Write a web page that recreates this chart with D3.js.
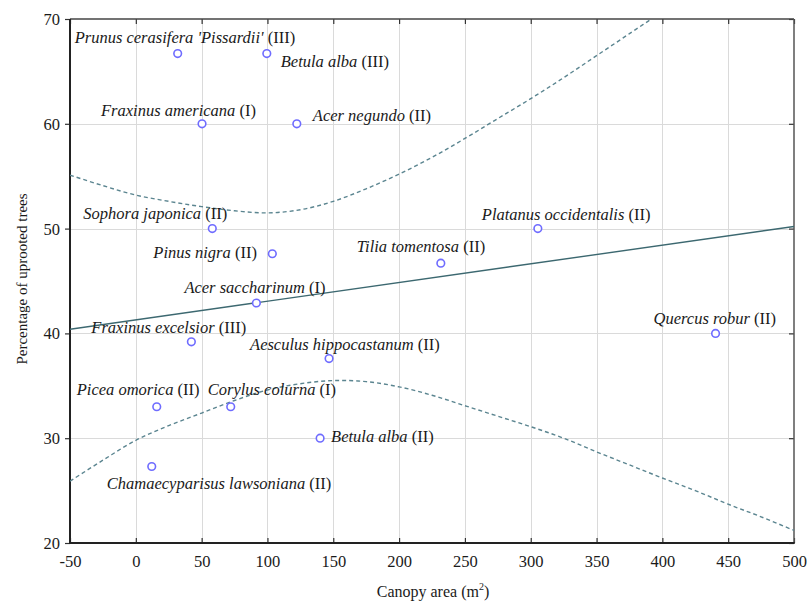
<!DOCTYPE html>
<html>
<head>
<meta charset="utf-8">
<script src="https://cdn.jsdelivr.net/npm/d3@7"></script>
<style>
  html, body { margin: 0; padding: 0; background: #fff; }
  svg { display: block; }
  text { font-family: "Liberation Serif", "DejaVu Serif", serif; fill: #1a1a1a; }
</style>
</head>
<body>
<svg id="chart" width="808" height="604"></svg>
<script>
// ---- data ----
const species = [
  "Prunus cerasifera 'Pissardii'", "Betula alba", "Fraxinus americana", "Acer negundo",
  "Sophora japonica", "Pinus nigra", "Acer saccharinum", "Fraxinus excelsior",
  "Aesculus hippocastanum", "Picea omorica", "Corylus colurna", "Betula alba",
  "Chamaecyparisus lawsoniana", "Tilia tomentosa", "Platanus occidentalis", "Quercus robur"
];
const groups = ["III", "III", "I", "II", "II", "II", "I", "III", "II", "II", "I", "II", "II", "II", "II", "II"];
const canopyArea = [31.8, 99.5, 50.3, 122.3, 58.1, 103.7, 91.6, 42.2, 146.8, 15.9, 72.1, 140, 12.1, 231.7, 305.4, 440.4];
const uprootedPct = [66.7, 66.7, 60, 60, 50, 47.6, 42.9, 39.2, 37.6, 33, 33, 30, 27.3, 46.7, 50, 40];

// fitted line and confidence band
const fitX = [-50, 500];
const fitY = [40.4, 50.2];
const upperX = [-50, -25, 0, 25, 50, 75, 100, 125, 150, 175, 200, 225, 250, 275, 300, 325, 350, 375, 400];
const upperY = [55.1, 54.1, 53.2, 52.6, 52.1, 51.7, 51.5, 51.8, 52.6, 53.8, 55.2, 56.8, 58.6, 60.5, 62.4, 64.4, 66.5, 68.6, 70.7];
const lowerX = [-50, -25, 0, 25, 50, 75, 100, 125, 150, 175, 200, 225, 250, 275, 300, 325, 350, 375, 400, 425, 450, 475, 500];
const lowerY = [25.9, 27.9, 29.8, 31.2, 32.4, 33.6, 34.6, 35.2, 35.5, 35.4, 34.9, 34.1, 33.1, 32.1, 31.1, 30.0, 28.7, 27.45, 26.2, 25.0, 23.7, 22.5, 21.2];

const xTicks = [-50, 0, 50, 100, 150, 200, 250, 300, 350, 400, 450, 500];
const yTicks = [20, 30, 40, 50, 60, 70];

// label placement (layout only): [dx, dy] from point to text start/baseline
const labelOffsets = [
  [-103, -11], [14, 13], [-101, -8], [16, -3], [-129, -10], [-119, 4], [-72, -10], [-100, -9],
  [-79, -9], [-80, -12], [-23, -12], [11, 4], [-45, 23], [-84, -11], [-56, -9], [-62, -9]
];

// ---- layout ----
const svg = d3.select("#chart");
const L = 70, R = 794, T = 19, B = 543;
const x = d3.scaleLinear().domain([-50, 500]).range([L, R]);
const y = d3.scaleLinear().domain([20, 70]).range([B, T]);

svg.append("defs").append("clipPath").attr("id", "plotclip")
  .append("rect").attr("x", L).attr("y", T).attr("width", R - L).attr("height", B - T);

// grid
const grid = svg.append("g").attr("stroke", "#dadada").attr("stroke-width", 1);
grid.selectAll("line.vx").data(xTicks.slice(1, -1)).join("line")
  .attr("x1", d => Math.round(x(d)) + 0.5).attr("x2", d => Math.round(x(d)) + 0.5)
  .attr("y1", T).attr("y2", B);
grid.selectAll("line.hy").data(yTicks.slice(1, -1)).join("line")
  .attr("y1", d => Math.round(y(d)) + 0.5).attr("y2", d => Math.round(y(d)) + 0.5)
  .attr("x1", L).attr("x2", R);

// axes
const fmt = d => String(d);
const xAxis = d3.axisBottom(x).tickValues(xTicks).tickFormat(fmt).tickSizeInner(-5).tickSizeOuter(0).tickPadding(12);
const yAxis = d3.axisLeft(y).tickValues(yTicks).tickFormat(fmt).tickSizeInner(5).tickSizeOuter(0).tickPadding(5);
const gx = svg.append("g").attr("transform", `translate(0,${B})`).call(xAxis);
const gy = svg.append("g").attr("transform", `translate(${L},0)`).call(yAxis);
[gx, gy].forEach(g => {
  g.select(".domain").remove();
  g.selectAll(".tick line").attr("stroke", "#333").attr("stroke-width", 1.2);
  g.selectAll(".tick text").attr("font-family", "Liberation Serif, serif").attr("font-size", 16.5).attr("fill", "#1a1a1a");
});
gy.selectAll(".tick text").attr("dy", "0.33em");

// top and right mirrored ticks
const xTop = d3.axisTop(x).tickValues(xTicks).tickSizeInner(-5).tickSizeOuter(0).tickFormat("");
const yRight = d3.axisRight(y).tickValues(yTicks).tickSizeInner(-5).tickSizeOuter(0).tickFormat("");
const gt = svg.append("g").attr("transform", `translate(0,${T})`).call(xTop);
const gr = svg.append("g").attr("transform", `translate(${R},0)`).call(yRight);
[gt, gr].forEach(g => {
  g.select(".domain").remove();
  g.selectAll(".tick line").attr("stroke", "#333").attr("stroke-width", 1.2);
});

// frame
svg.append("line").attr("x1", L).attr("x2", R).attr("y1", T).attr("y2", T).attr("stroke", "#444").attr("stroke-width", 1.5);
svg.append("line").attr("x1", R).attr("x2", R).attr("y1", T).attr("y2", B).attr("stroke", "#555").attr("stroke-width", 1.5);
svg.append("line").attr("x1", L).attr("x2", L).attr("y1", T).attr("y2", B + 1).attr("stroke", "#222").attr("stroke-width", 2);
svg.append("line").attr("x1", L - 1).attr("x2", R + 0.75).attr("y1", B).attr("y2", B).attr("stroke", "#222").attr("stroke-width", 2);

// curves
const plot = svg.append("g").attr("clip-path", "url(#plotclip)");
const lineGen = d3.line().x(d => x(d[0])).y(d => y(d[1])).curve(d3.curveCatmullRom);
plot.append("path").datum(d3.zip(upperX, upperY)).attr("d", lineGen)
  .attr("fill", "none").attr("stroke", "#5b8590").attr("stroke-width", 1.4).attr("stroke-dasharray", "4,3");
plot.append("path").datum(d3.zip(lowerX, lowerY)).attr("d", lineGen)
  .attr("fill", "none").attr("stroke", "#5b8590").attr("stroke-width", 1.4).attr("stroke-dasharray", "4,3");
plot.append("path").datum(d3.zip(fitX, fitY)).attr("d", d3.line().x(d => x(d[0])).y(d => y(d[1])))
  .attr("fill", "none").attr("stroke", "#3c6870").attr("stroke-width", 1.4);

// points
const pts = d3.range(species.length).map(i => ({
  name: species[i], grp: groups[i], xv: canopyArea[i], yv: uprootedPct[i], off: labelOffsets[i]
}));
svg.append("g").selectAll("circle").data(pts).join("circle")
  .attr("cx", d => x(d.xv)).attr("cy", d => y(d.yv)).attr("r", 3.8)
  .attr("fill", "#fff").attr("stroke", "#6f6cff").attr("stroke-width", 1.6);

// labels
const lbl = svg.append("g").selectAll("text").data(pts).join("text")
  .attr("x", d => x(d.xv) + d.off[0]).attr("y", d => y(d.yv) + d.off[1])
  .attr("font-size", 16.5);
lbl.append("tspan").attr("font-style", "italic").text(d => d.name);
lbl.append("tspan").text(d => " (" + d.grp + ")");

// axis titles
const xt = svg.append("text").attr("x", 433).attr("y", 597).attr("text-anchor", "middle").attr("font-size", 16);
xt.append("tspan").text("Canopy area (m");
xt.append("tspan").attr("font-size", 10).attr("dy", -7).text("2");
xt.append("tspan").attr("dy", 7).text(")");
svg.append("text").attr("transform", "translate(27,279) rotate(-90)").attr("text-anchor", "middle")
  .attr("font-size", 15).text("Percentage of uprooted trees");
</script>
</body>
</html>
